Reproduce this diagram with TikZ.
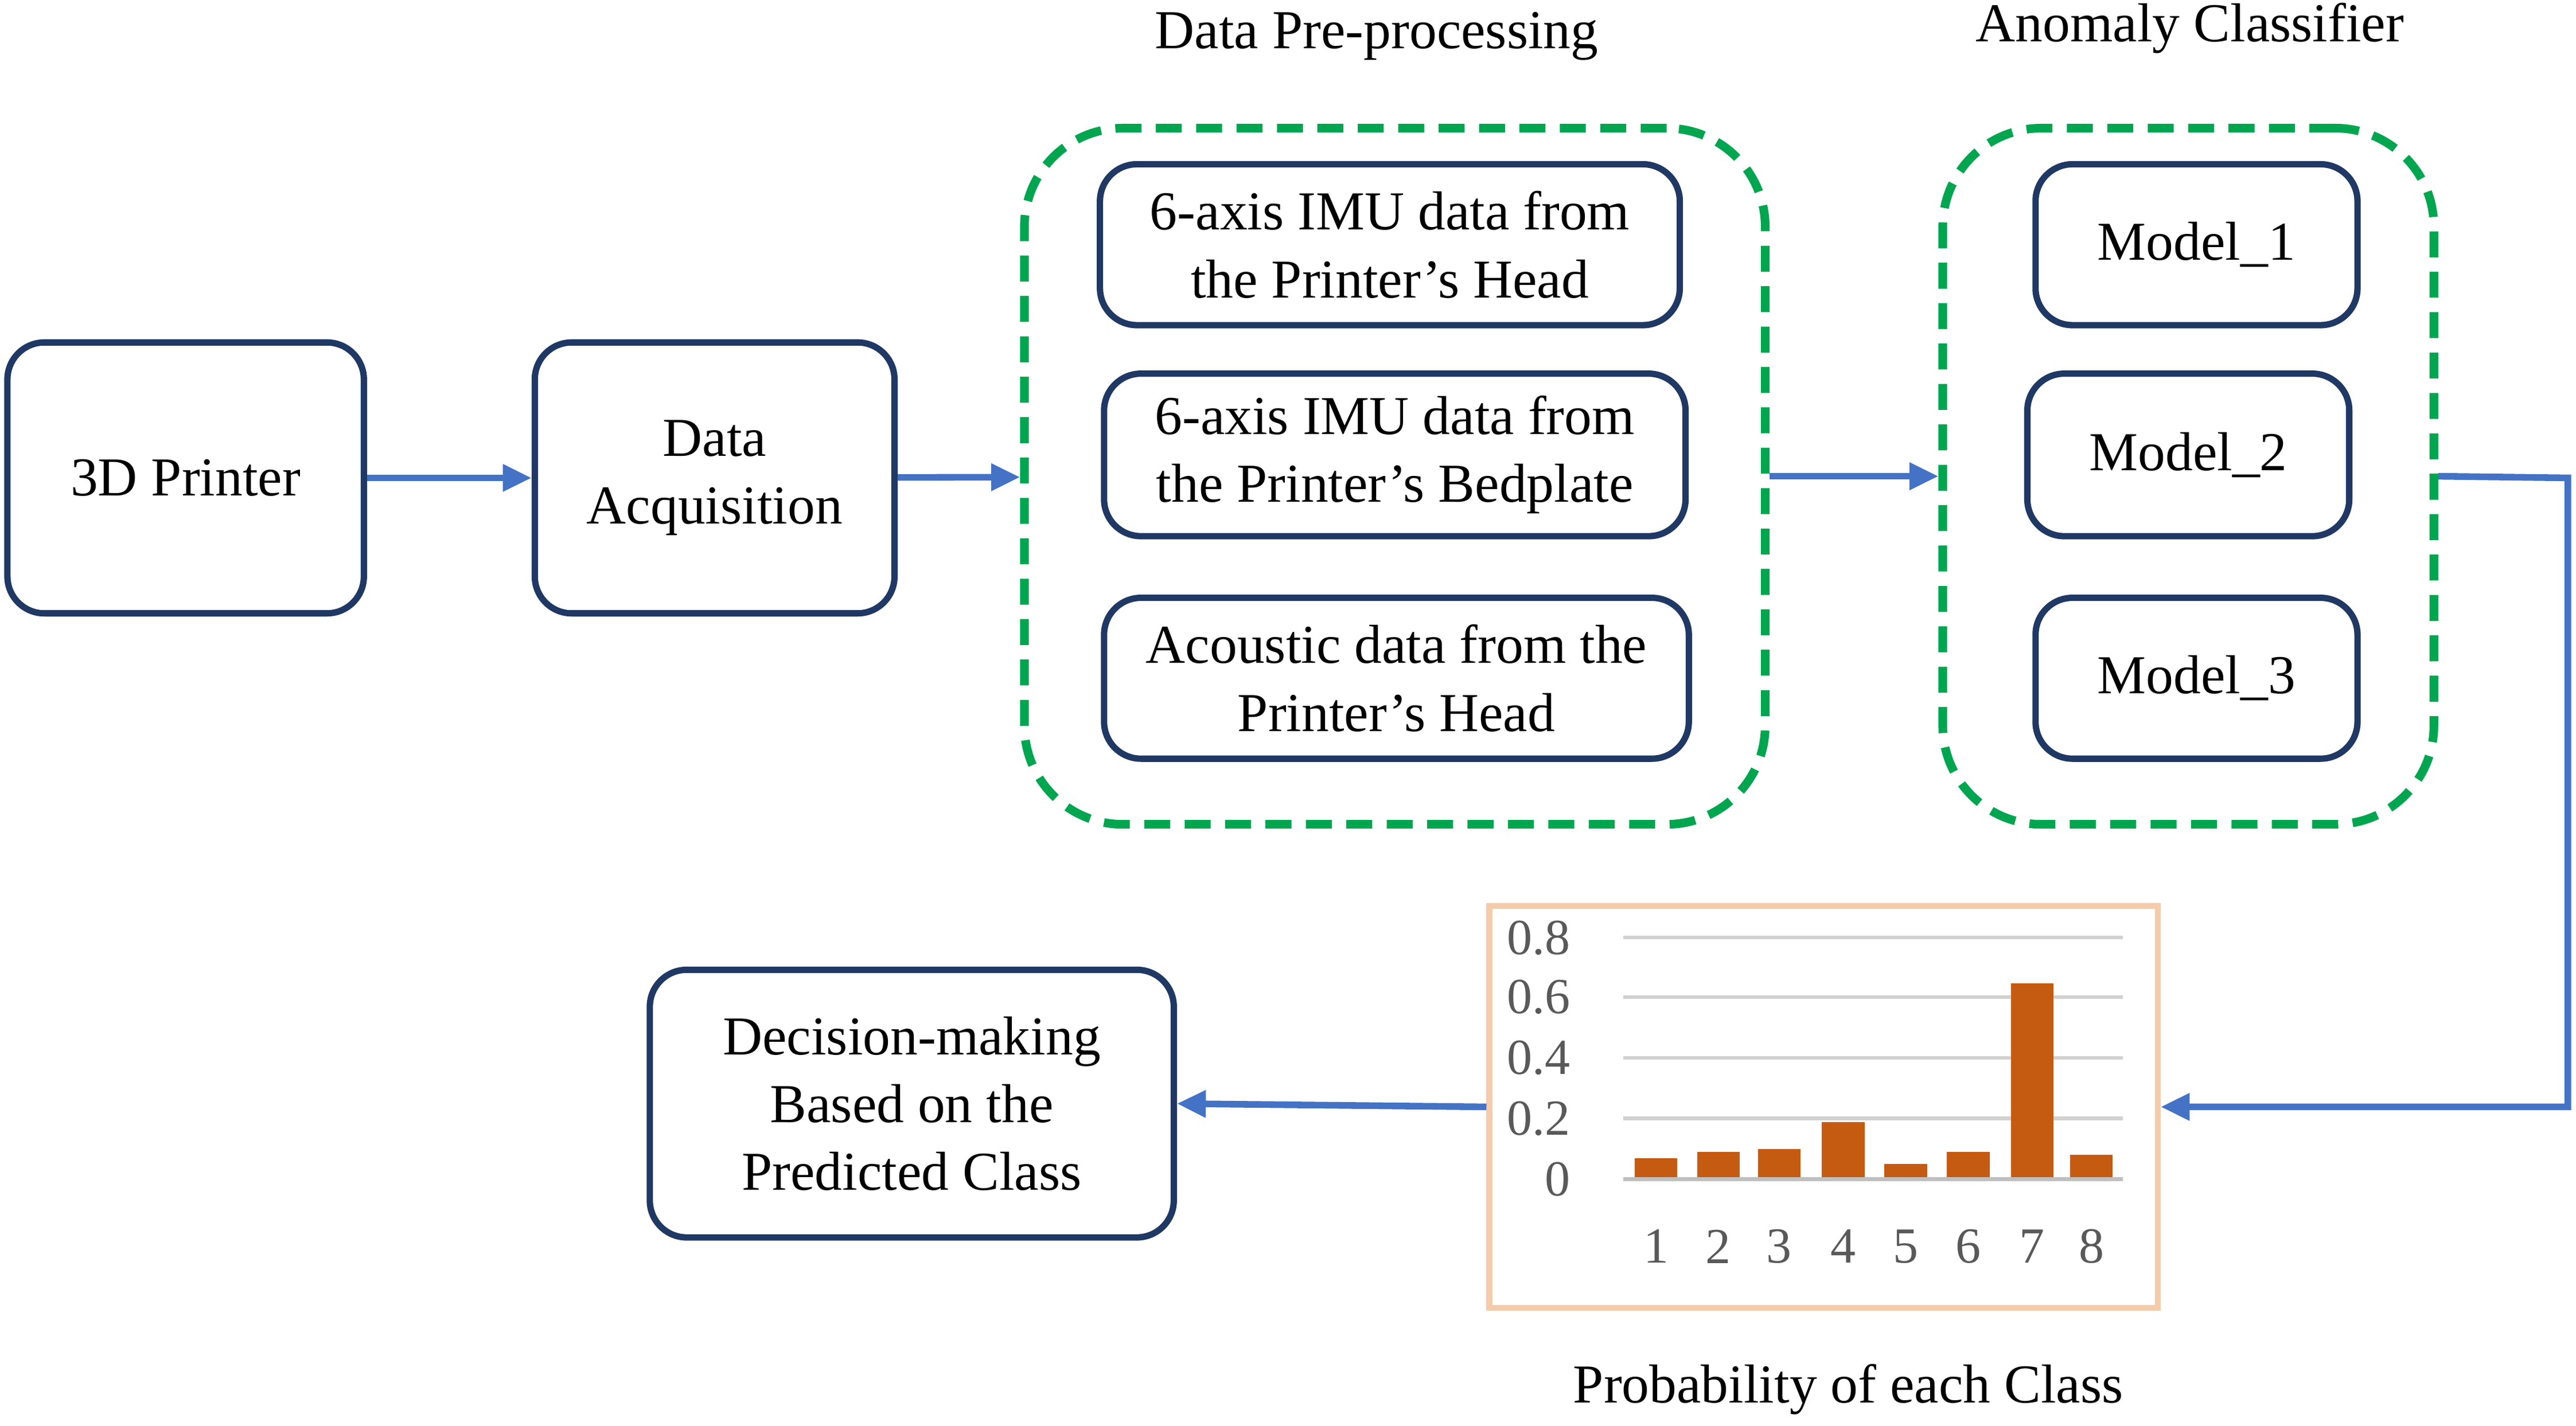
\documentclass[tikz,border=0pt]{standalone}
\usepackage{fontspec}
\setmainfont{Liberation Serif}
\usetikzlibrary{positioning, arrows.meta}
\definecolor{boxblue}{HTML}{1F3864}
\definecolor{flowblue}{HTML}{4472C4}
\definecolor{dashgreen}{HTML}{00A64F}
\definecolor{barorange}{HTML}{C55A11}
\definecolor{chartframe}{HTML}{F4CCAC}
\tikzset{x=0.02cm, y=-0.02cm,
every node/.style={font=\fontsize{19}{23.5}\selectfont, align=center}, % Text in all nodes
block/.style={ % Sets the properties for each step
draw=boxblue, line width=2.2pt, rounded corners=0.45cm, inner sep=0pt},
group/.style={ % Dashed frames round the stages
draw=dashgreen, line width=3pt, dash pattern=on 9pt off 5pt, rounded corners=1.2cm},
flow/.style={ % Connectors between the steps
draw=flowblue, line width=2.3pt, -{Triangle[length=10pt,width=9pt]}},
axis text/.style={text=black!65, font=\fontsize{17.5}{20}\selectfont}}
\begin{document}
\begin{tikzpicture}
    \useasboundingbox (0,0) rectangle (1568,868);

    % steps
    \node[block, minimum width=4.34cm, minimum height=3.3cm] (printer) at (113,291) {3D Printer};
    \node[block, minimum width=4.38cm, minimum height=3.3cm] (acq) at (435,291) {Data\\Acquisition};

    % pre-processing
    \node[group, minimum width=9.02cm, minimum height=8.48cm] (pre) at (849,290) {};
    \node at (838,22) (prelabel) {Data Pre-processing};
    \node[block, minimum width=7.06cm, minimum height=1.96cm] (head) at (846,149) {6-axis IMU data from\\the Printer’s Head};
    \node[block, minimum width=7.08cm, minimum height=1.98cm] (bed) at (849,277) {6-axis IMU data from\\the Printer’s Bedplate};
    \node[block, minimum width=7.12cm, minimum height=1.96cm] (acoustic) at (850,413) {Acoustic data from the\\Printer’s Head};

    % classifier
    \node[group, minimum width=5.98cm, minimum height=8.48cm] (cls) at (1332,290) {};
    \node at (1333,17) (clslabel) {Anomaly Classifier};
    \node[block, minimum width=3.92cm, minimum height=1.96cm] (m1) at (1337,149) {Model\_1};
    \node[block, minimum width=3.92cm, minimum height=1.98cm] (m2) at (1332,277) {Model\_2};
    \node[block, minimum width=3.92cm, minimum height=1.96cm] (m3) at (1337,413) {Model\_3};

    % chart
    \node[draw=chartframe, line width=2pt, minimum width=8.14cm, minimum height=4.9cm] (chart) at (1110,674) {};
    \node at (1125,846) (chartlabel) {Probability of each Class};
    \foreach \v/\y in {0/718, 0.2/681, 0.4/644, 0.6/607, 0.8/571} {
        \node[axis text, anchor=east] at (962,\y) {\v};
    }
    \foreach \y in {571, 607, 644, 681} {
        \draw[black!18, line width=1.2pt] (988,\y) -- (1292,\y);
    }
    \foreach \i/\x/\p in {1/1008/0.07, 2/1046/0.09, 3/1083/0.10, 4/1122/0.19, 5/1160/0.05, 6/1198/0.09, 7/1237/0.65, 8/1273/0.08} {
        \fill[barorange] (\x-13,718) rectangle (\x+13,718-183.5*\p);
        \node[axis text] at (\x,759) {\i};
    }
    \draw[black!25, line width=1.2pt] (988,718) -- (1292,718);

    \node[block, minimum width=6.38cm, minimum height=3.26cm] (decision) at (555,672) {Decision-making\\Based on the\\Predicted Class};

    % connectors
    \draw[flow] (printer) -- (acq);
    \draw[flow] (acq) -- (pre);
    \draw[flow] (pre) -- (cls);
    \coordinate (turn) at (1563,291);
    \draw[flow] (cls.east) -- (turn) |- (chart.east);
    \draw[flow] (chart.west) -- (decision.east);
\end{tikzpicture}
\end{document}
